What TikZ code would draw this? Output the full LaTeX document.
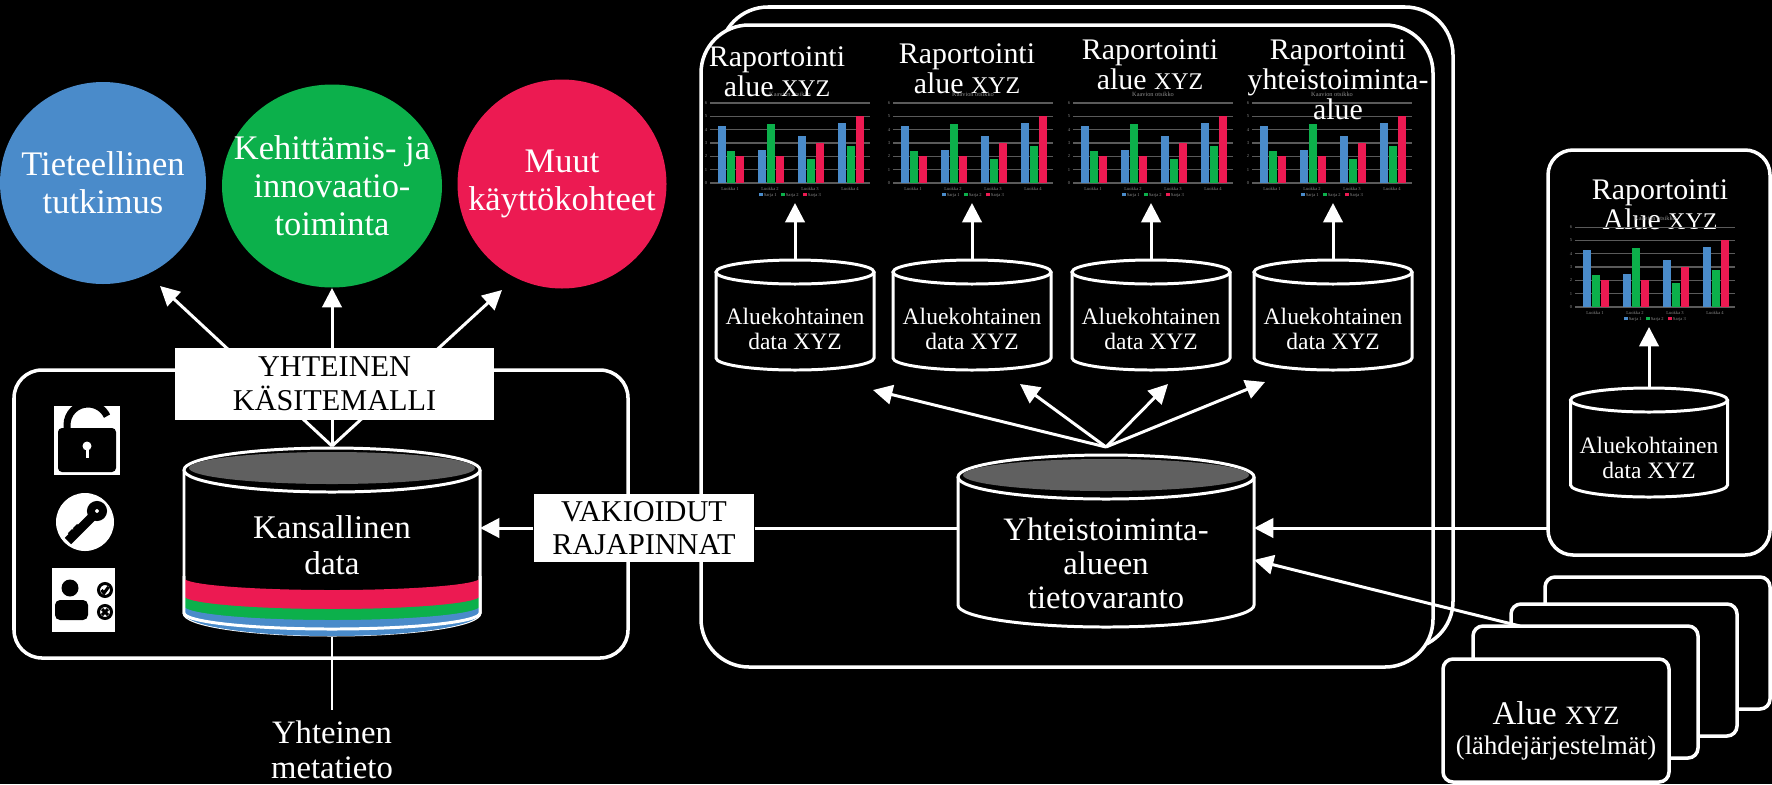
\documentclass[tikz,border=0pt]{standalone}
\usepackage{fontspec}
\setmainfont{Liberation Serif}
\usetikzlibrary{arrows.meta,shapes.geometric}

\definecolor{sciblue}{HTML}{4A8BCA}
\definecolor{devgreen}{HTML}{0CB04B}
\definecolor{othred}{HTML}{EC1A52}
\definecolor{topgray}{HTML}{606060}
\definecolor{gridgray}{HTML}{5A5A5A}
\definecolor{inkgray}{HTML}{8C8C8C}

\tikzset{
  wline/.style={draw=white, line width=0.85pt},
  arr/.style={wline, -{Triangle[length=5.5pt,width=5.5pt]}},
  panel/.style={draw=white, line width=1pt, fill=black, rounded corners=#1, inner sep=0pt, outer sep=0pt},
  panel/.default=4.8mm,
  usecircle/.style={ellipse, fill=#1, inner sep=0pt},
  circtext/.style={text=white, align=center, inner sep=0pt, font=\fontsize{9.8}{10.8}\selectfont},
  capbox/.style={fill=white, text=black, align=center, inner sep=0pt, font=\fontsize{8.6}{9.6}\selectfont},
  dbbody/.style={inner sep=0pt, outer sep=0pt},
  dbtext/.style={text=white, align=center, inner sep=0pt, font=\fontsize{9.4}{10.4}\selectfont},
  dbsmall/.style={text=white, align=center, inner sep=0pt, font=\fontsize{6.7}{7.1}\selectfont},
  reptitle/.style={text=white, align=center, inner sep=0pt, font=\fontsize{8.5}{8.6}\selectfont},
  chartarea/.style={inner sep=0pt, outer sep=0pt, minimum width=16mm, minimum height=10mm},
  gridline/.style={draw=gridgray, line width=0.3pt},
  tinytxt/.style={text=inkgray, inner sep=0pt, font=\fontsize{1.3}{1.5}\selectfont},
}

\newcommand{\smallxyz}{\scalebox{0.8}{XYZ}}

% data store: [top style]{cx}{y top}{y bottom}{rx}{ry}
\newcommand{\dbcyl}[6][]{%
  \fill[black] (#2-#5,#3) -- (#2-#5,#4)
    arc[start angle=180,end angle=360,x radius=#5*0.1mm,y radius=#6*0.1mm]
    -- (#2+#5,#3)
    arc[start angle=0,end angle=180,x radius=#5*0.1mm,y radius=#6*0.1mm] -- cycle;
  \draw[wline] (#2-#5,#3) -- (#2-#5,#4)
    arc[start angle=180,end angle=360,x radius=#5*0.1mm,y radius=#6*0.1mm]
    -- (#2+#5,#3);
  \draw[wline,#1] (#2,#3) ellipse[x radius=#5*0.1mm,y radius=#6*0.1mm];
}
\newcommand{\graytop}[4]{\fill[topgray] (#1,#2) ellipse[x radius=#3*0.1mm,y radius=#4*0.1mm];}

% small bar chart: {name}{x left}{y top}
\newcommand{\repchart}[3]{%
  \node[chartarea] (#1) at (#2+80,#3+50) {};
  \begin{scope}[shift={(#2,#3)}]
    \node[tinytxt, font=\fontsize{1.8}{2}\selectfont] at (80,-9) {Kaavion otsikko};
    \foreach \g in {0,...,6} {
      \draw[gridline] (0,80-\g*13.33) -- (160,80-\g*13.33);
      \node[tinytxt, anchor=east] at (-1.5,80-\g*13.33) {\g};
    }
    \foreach \i/\va/\vb/\vc in {0/4.3/2.4/2,1/2.5/4.4/2,2/3.5/1.8/3,3/4.5/2.8/5} {
      \fill[sciblue] (\i*40+8,80) rectangle ++(8,-\va*13.33);
      \fill[devgreen] (\i*40+17,80) rectangle ++(8,-\vb*13.33);
      \fill[othred] (\i*40+26,80) rectangle ++(8,-\vc*13.33);
      \pgfmathtruncatemacro{\k}{\i+1}
      \node[tinytxt] at (\i*40+20,85.5) {Luokka \k};
    }
    \node[tinytxt] at (80,92) {\textcolor{sciblue}{\rule{1pt}{1pt}} Sarja 1\quad\textcolor{devgreen}{\rule{1pt}{1pt}} Sarja 2\quad\textcolor{othred}{\rule{1pt}{1pt}} Sarja 3};
  \end{scope}}

\begin{document}
\begin{tikzpicture}[x=0.1mm, y=-0.1mm]
    % background and page size
    \fill[black] (0,0) rectangle (1772,784);
    \useasboundingbox (0,0) rectangle (1772,784);

    % frames of the cooperation area
    \node[panel, minimum width=73.3mm, minimum height=64.2mm] (backframe) at (1086.5,328) {};
    \node[panel, minimum width=73.2mm, minimum height=64.2mm] (coopframe) at (1067,346) {};

    % national frame and single area box
    \node[panel=2.8mm, minimum width=61.4mm, minimum height=28.8mm] (natframe) at (321,514) {};
    \node[panel=2.5mm, minimum width=22.2mm, minimum height=40.5mm] (rbox) at (1659,352.5) {};

    % source systems, back to front
    \node[panel=1mm, minimum width=22.5mm, minimum height=13.2mm] (src4) at (1657.5,643) {};
    \node[panel=1mm, minimum width=22.6mm, minimum height=13.2mm] (src3) at (1624,670) {};
    \node[panel=1mm, minimum width=22.5mm, minimum height=13.2mm] (src2) at (1585.5,692) {};
    \node[panel=1mm, minimum width=22.6mm, minimum height=12.3mm] (src1) at (1556,720.5) {};
    \node[dbtext, font=\fontsize{9.4}{8.6}\selectfont] (srclbl) at (1556,731) {Alue \smallxyz\\{\fontsize{7.6}{8.6}\selectfont(lähdejärjestelmät)}};

    % usage circles
    \node[usecircle=sciblue, minimum width=20.6mm, minimum height=20.2mm,
        label={[circtext]center:Tieteellinen\\tutkimus}] (sci) at (103,183) {};
    \node[usecircle=devgreen, minimum width=22mm, minimum height=20.3mm,
        label={[circtext]center:Kehittämis- ja\\innovaatio-\\toiminta}] (dev) at (332,186) {};
    \node[usecircle=othred, minimum width=20.9mm, minimum height=20.9mm,
        label={[circtext]center:Muut\\käyttökohteet}] (oth) at (562,184) {};

    % national data store and its arrows
    \node[dbbody, minimum width=29.6mm, minimum height=14.3mm] (natdb) at (332,541.5) {};
    \coordinate (natApex) at ([yshift=2.4mm]natdb.north);
    \coordinate (sciIn) at (160,286);
    \coordinate (devIn) at (332,288);
    \coordinate (othIn) at (502,290);
    \foreach \t in {sciIn,devIn,othIn}
        \draw[arr] (natApex) -- (\t);
    \dbcyl[fill=black]{332}{470}{613}{148}{22}
    \graytop{332}{468}{143}{16}
    \fill[othred] (184,578) arc[start angle=180,end angle=360,x radius=14.8mm,y radius=1.2mm]
        -- (480,613) arc[start angle=0,end angle=-180,x radius=14.8mm,y radius=2.2mm] -- cycle;
    \fill[devgreen] (184,596) arc[start angle=180,end angle=360,x radius=14.8mm,y radius=1.3mm]
        -- (480,613) arc[start angle=0,end angle=-180,x radius=14.8mm,y radius=2.2mm] -- cycle;
    \fill[sciblue] (184,606) arc[start angle=180,end angle=360,x radius=14.8mm,y radius=1.4mm]
        -- (480,613) arc[start angle=0,end angle=-180,x radius=14.8mm,y radius=2.3mm] -- cycle;
    \draw[wline] (184,576) -- (184,613) arc[start angle=180,end angle=360,x radius=14.8mm,y radius=1.6mm] -- (480,576);
    \node[dbtext] (natlbl) at (332,545) {Kansallinen\\data};

    % concept model box over the arrows
    \node[capbox, minimum width=31.9mm, minimum height=7.2mm] (kasite) at (334.5,384) {YHTEINEN\\KÄSITEMALLI};

    % lock, key and user rights icons
    \fill[white] (54,406) rectangle (120,475);
    \fill[black, rounded corners=0.4mm] (58,428) rectangle (116,472);
    \draw[black, line width=0.7mm] (67,430) -- (67,425) arc[start angle=180, end angle=25, radius=2.1mm];
    \fill[white] (87,446) circle (0.45mm);
    \fill[white] (85.5,446) rectangle (88.5,458);
    \fill[white] (85,522) circle (2.9mm);
    \draw[black, line width=0.8mm] (97,511) circle (0.6mm);
    \draw[black, line width=0.9mm] (92,517) -- (68,541);
    \draw[black, line width=0.6mm] (74,535) -- (70,531) (79,530) -- (75,526);
    \fill[white] (52,568) rectangle (115,632);
    \fill[black] (70,588) circle (0.85mm);
    \fill[black, rounded corners=0.5mm] (55,600) rectangle (88,620);
    \draw[black, line width=0.3mm] (105,590) circle (0.65mm) (105,612) circle (0.65mm);
    \draw[black, line width=0.3mm] (101.5,590) -- (104,593) -- (108.5,587);
    \draw[black, line width=0.3mm] (102,609) -- (108,615) (102,615) -- (108,609);

    % common metadata
    \node[dbtext, font=\fontsize{9.3}{10}\selectfont, inner sep=1mm] (meta) at (332,750) {Yhteinen\\metatieto};
    \draw[white, line width=0.45pt] ([yshift=-2.4mm]natdb.south) -- (meta.north);

    % cooperation area data store
    \node[dbbody, minimum width=29.6mm, minimum height=12.8mm] (coopdb) at (1106,541) {};
    \dbcyl[fill=black]{1106}{477}{605}{148}{22}
    \graytop{1106}{475}{143}{16}
    \node[dbtext, font=\fontsize{9.3}{9.7}\selectfont] (cooplbl) at (1106,563) {Yhteistoiminta-\\alueen\\tietovaranto};

    % area data stores with their reports
    \foreach \n/\cx/\x in {1/795/710,2/972/893,3/1151/1073,4/1333/1252} {
        \dbcyl{\cx}{272}{358}{79}{12}
        \node[dbbody, minimum width=15.8mm, minimum height=8.6mm] (cyl\n) at (\cx,315) {};
        \node[dbsmall] (cyllbl\n) at (\cx,329) {Aluekohtainen\\data XYZ};
        \repchart{chart\n}{\x}{103}
        \draw[arr] ([yshift=1.2mm]cyl\n.north) -- (cyl\n.north |- chart\n.south);
    }
    \node[reptitle] (title1) at (777,72) {Raportointi\\alue \smallxyz};
    \node[reptitle] (title2) at (967,69) {Raportointi\\alue \smallxyz};
    \node[reptitle] (title3) at (1150,65) {Raportointi\\alue \smallxyz};
    \node[reptitle] (title4) at (1338,80) {Raportointi\\yhteistoiminta-\\alue};

    % distribution to the area stores
    \coordinate (coopApex) at ([yshift=3mm]coopdb.north);
    \coordinate (out1) at (873,390);
    \coordinate (out2) at (1020,384);
    \coordinate (out3) at (1168,384);
    \coordinate (out4) at (1265,382);
    \foreach \t in {out1,out2,out3,out4}
        \draw[arr] (coopApex) -- (\t);

    % single area report box
    \node[reptitle] (title5) at (1660,205) {Raportointi\\Alue \smallxyz};
    \repchart{chart5}{1575}{227}
    \dbcyl{1649}{400}{485}{78.5}{12}
    \node[dbbody, minimum width=15.7mm, minimum height=8.5mm] (cyl5) at (1649,442.5) {};
    \node[dbsmall] (cyllbl5) at (1649,458) {Aluekohtainen\\data XYZ};
    \draw[arr] ([yshift=1.2mm]cyl5.north) -- (cyl5.north |- chart5.south);

    % standard interfaces
    \node[capbox, minimum width=22mm, minimum height=6.8mm] (vak) at (644,528) {VAKIOIDUT\\RAJAPINNAT};
    \draw[arr] (vak.west) -- (vak.west -| natdb.east);
    \draw[wline] (vak.east) -- (vak.east -| coopdb.west);

    % inputs from the right
    \coordinate (coopIn1) at ([yshift=1.3mm]coopdb.east);
    \coordinate (coopIn2) at ([yshift=-1.9mm]coopdb.east);
    \draw[arr] (rbox.west |- coopIn1) -- (coopIn1);
    \draw[arr] ([xshift=4.7mm]src2.north west) -- (coopIn2);
\end{tikzpicture}
\end{document}
